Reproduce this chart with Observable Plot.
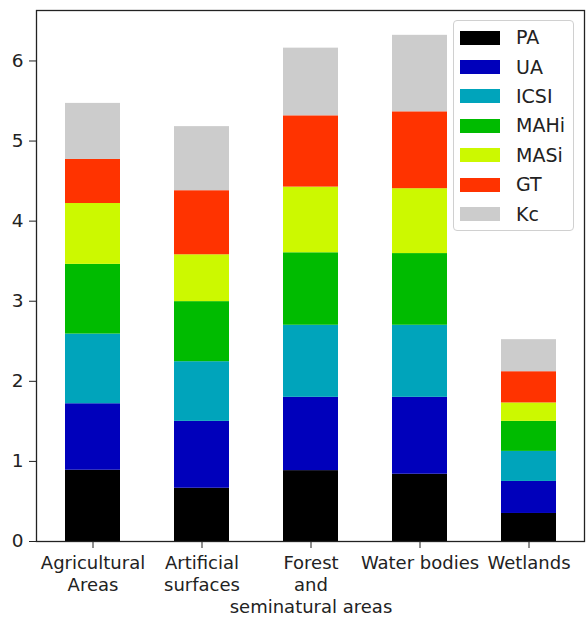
<!DOCTYPE html>
<html>
<head>
<meta charset="utf-8">
<script src="https://cdn.jsdelivr.net/npm/d3@7"></script>
<script src="https://cdn.jsdelivr.net/npm/@observablehq/plot@0.6"></script>
<style>
  html, body { margin: 0; padding: 0; background: #fff; }
  #wrap { position: relative; width: 588px; height: 617px; font-family: "DejaVu Sans", sans-serif; }
  #legend { position: absolute; left: 453px; top: 20px; width: 121px; height: 211px; box-sizing: border-box;
    border: 1px solid #d0d0d0; border-radius: 4px; background: rgba(255,255,255,0.85); padding-top: 2px; }
  .row { display: flex; align-items: center; height: 29.4px; }
  .sw { width: 40px; height: 14px; margin-left: 6px; margin-right: 16px; }
  .lb { font-size: 19px; color: #222; line-height: 1; }
</style>
</head>
<body>
<div id="wrap"></div>
<script>
const categories = ["Agricultural\nAreas", "Artificial\nsurfaces", "Forest\nand\nseminatural areas", "Water bodies", "Wetlands"];
const seriesNames = ["PA", "UA", "ICSI", "MAHi", "MASi", "GT", "Kc"];
const seriesColors = ["#000000", "#0000bb", "#00a4bb", "#00bb00", "#ccf900", "#ff3300", "#cccccc"];
const PA   = [0.89, 0.665, 0.885, 0.84, 0.35];
const UA   = [0.83, 0.835, 0.915, 0.96, 0.40];
const ICSI = [0.87, 0.745, 0.90, 0.90, 0.375];
const MAHi = [0.87, 0.75, 0.905, 0.895, 0.375];
const MASi = [0.76, 0.585, 0.82, 0.81, 0.23];
const GT   = [0.55, 0.80, 0.89, 0.96, 0.39];
const Kc   = [0.70, 0.80, 0.845, 0.955, 0.40];
const yTicks = [0, 1, 2, 3, 4, 5, 6];

const seriesValues = [PA, UA, ICSI, MAHi, MASi, GT, Kc];
const table = [];
seriesNames.forEach((s, si) => {
  categories.forEach((c, ci) => table.push({category: c, series: s, value: seriesValues[si][ci]}));
});

const chart = Plot.plot({
  width: 588,
  height: 617,
  marginLeft: 36,
  marginRight: 4,
  marginTop: 10,
  marginBottom: 76,
  style: {fontFamily: "DejaVu Sans, sans-serif", fontSize: "18px", color: "#222", background: "#fff"},
  x: {domain: categories, paddingInner: 0.5, paddingOuter: 0.25, label: null},
  y: {domain: [0, 6.63], label: null},
  color: {domain: seriesNames, range: seriesColors},
  marks: [
    Plot.barY(table, {x: "category", y: "value", fill: "series", order: seriesNames}),
    Plot.axisX({tickSize: 7, tickPadding: 5, lineHeight: 1.22, fontSize: 18, stroke: "#222"}),
    Plot.axisY({ticks: yTicks, tickFormat: "d", tickSize: 7, tickPadding: 6, fontSize: 18.5, stroke: "#222"}),
    Plot.frame({stroke: "#222", strokeWidth: 1.3})
  ]
});
const wrap = document.getElementById("wrap");
wrap.appendChild(chart);

const legend = document.createElement("div");
legend.id = "legend";
seriesNames.forEach((s, i) => {
  const row = document.createElement("div");
  row.className = "row";
  const sw = document.createElement("div");
  sw.className = "sw";
  sw.style.background = seriesColors[i];
  const lb = document.createElement("span");
  lb.className = "lb";
  lb.textContent = s;
  row.appendChild(sw); row.appendChild(lb);
  legend.appendChild(row);
});
wrap.appendChild(legend);
</script>
</body>
</html>
